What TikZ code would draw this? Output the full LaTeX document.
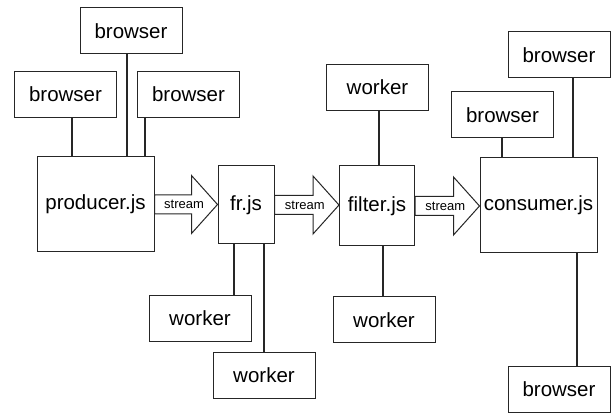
\documentclass[tikz,border=0pt]{standalone}
\usepackage{fontspec}
\setmainfont{Liberation Sans}
\usetikzlibrary{calc, positioning}
\newcommand{\streamto}[2]{%
  \draw[arr] let \p1 = (#1.east), \p2 = (#2.west) in
    (\x1,\y1+9.5pt) -- (\x2-26pt,\y1+9.5pt) -- (\x2-26pt,\y1+29pt) -- (\x2,\y1)
    -- (\x2-26pt,\y1-29pt) -- (\x2-26pt,\y1-9.5pt) -- (\x1,\y1-9.5pt) -- cycle
    ({0.5*\x1+0.5*\x2-2pt},\y1) node[stm]{stream};}

\begin{document}
\begin{tikzpicture}[x=1pt, y=-1pt,
    box/.style={draw=black!85, line width=1pt, inner sep=0pt, font=\fontsize{20.5}{24}\selectfont},
    small/.style={box, minimum width=102pt, minimum height=46pt},
    arr/.style={draw=black!85, line width=1pt, fill=white},
    stm/.style={inner sep=0pt, font=\fontsize{13}{15}\selectfont},
    wire/.style={draw=black!85, line width=1.1pt}]
    \useasboundingbox (0,0) rectangle (611,414);

    \node[box, minimum width=117pt, minimum height=95pt] (prod) at (95.5,204.5) {producer.js};
    \node[box, minimum width=56pt, minimum height=78pt] (fr) at (246,205) {fr.js};
    \node[box, minimum width=75pt, minimum height=80pt] (filt) at (377,206) {filter.js};
    \node[box, minimum width=117pt, minimum height=95pt] (cons) at (538.5,205.5) {consumer.js};

    \node[small] (pbl) at (65.5,94.5) {browser};
    \node[small] (pbt) at (131,31) {browser};
    \node[small] (pbr) at (188.5,94.5) {browser};
    \node[small] (frw) at (200,318.5) {worker};
    \node[small] (frww) at (264,375.5) {worker};
    \node[small] (fwt) at (377.5,87.5) {worker};
    \node[small] (fwb) at (384,320) {worker};
    \node[small] (cbl) at (502.5,115) {browser};
    \node[small] (cbt) at (559,55) {browser};
    \node[small] (cbb) at (559,389) {browser};

    \draw[wire] (pbl.south -| 72,0) -- (prod.north -| 72,0);
    \draw[wire] (pbt.south -| 127,0) -- (prod.north -| 127,0);
    \draw[wire] (pbr.south -| 145,0) -- (prod.north -| 145,0);
    \draw[wire] (frw.north -| 234,0) -- (fr.south -| 234,0);
    \draw[wire] (frww.north -| 264,0) -- (fr.south -| 264,0);
    \draw[wire] (fwt.south -| 379,0) -- (filt.north -| 379,0);
    \draw[wire] (fwb.north -| 383,0) -- (filt.south -| 383,0);
    \draw[wire] (cbl.south -| 502,0) -- (cons.north -| 502,0);
    \draw[wire] (cbt.south -| 573,0) -- (cons.north -| 573,0);
    \draw[wire] (cbb.north -| 577,0) -- (cons.south -| 577,0);

    \streamto{prod}{fr}
    \streamto{fr}{filt}
    \streamto{filt}{cons}
\end{tikzpicture}
\end{document}
